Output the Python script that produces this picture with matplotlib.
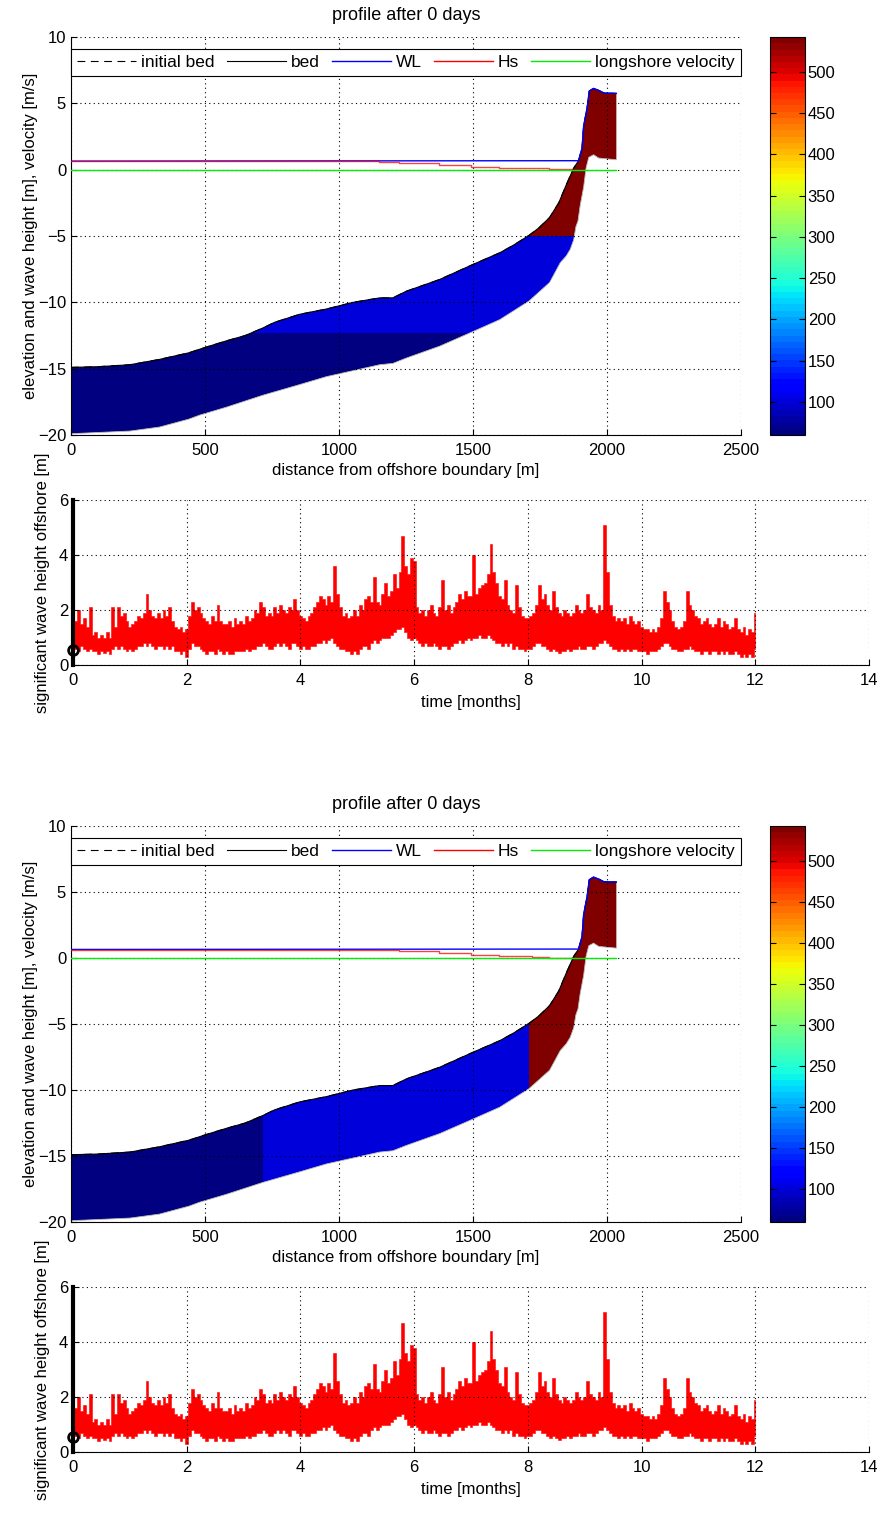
import numpy as np
import matplotlib
matplotlib.use('Agg')
import matplotlib.pyplot as plt
from matplotlib.patches import Polygon
from matplotlib.colors import Normalize
from matplotlib.cm import ScalarMappable

plt.rcParams['font.family'] = ['Liberation Sans', 'DejaVu Sans']
plt.rcParams['font.size'] = 12

# --- cross-shore profile ---
bed_x = [0, 100, 220, 330, 440, 500, 580, 650, 716, 760, 853, 953, 1052, 1152, 1201,
         1251, 1330, 1376, 1500, 1600, 1650, 1709, 1745, 1786, 1820, 1851, 1876, 1894,
         1907, 1913, 1926, 1934, 1950, 1969, 1988, 2035]
bed_z = [-14.9, -14.85, -14.7, -14.3, -13.8, -13.4, -12.9, -12.5, -11.93, -11.5, -10.9,
         -10.5, -10.0, -9.66, -9.66, -9.16, -8.6, -8.27, -7.14, -6.26, -5.7, -4.95, -4.4,
         -3.6, -2.5, -1.0, 0.13, 0.68, 1.63, 3.3, 4.67, 5.93, 6.13, 5.98, 5.78, 5.75]

# lower boundary of the sediment layers
base_x = [0, 220, 330, 440, 480, 580, 716, 853, 953, 1152, 1201, 1251, 1376, 1500, 1600,
          1709, 1786, 1826, 1848, 1863, 1876, 1884, 1892, 1900, 1913, 1922, 1932, 1950,
          1969, 2035]
base_z = [-19.9, -19.7, -19.4, -18.8, -18.5, -17.9, -17.0, -16.2, -15.6, -14.7, -14.6,
          -14.2, -13.3, -12.2, -11.3, -9.9, -8.5, -7.0, -6.5, -6.0, -5.27, -4.3, -3.85,
          -2.7, -1.3, 0.13, 0.93, 1.13, 0.88, 0.75]

wl_x = [0, 1894, 1907, 1913, 1926, 1934, 1950, 1969, 1988, 2035]
wl_z = [0.65, 0.68, 1.63, 3.3, 4.67, 5.93, 6.13, 5.98, 5.78, 5.75]

hs_x = [0, 1150, 1225, 1373, 1491, 1597, 1721, 1783, 1870]
hs_z = [0.62, 0.6, 0.53, 0.35, 0.22, 0.15, 0.1, 0.03, 0.03]

vel_x = [0, 2035]
vel_z = [0, 0]

# grain size per layer and layer interfaces
d50 = [62, 98, 542]
interface_z = [-12.3, -5.0]    # first snapshot: layers split by elevation
interface_x = [716, 1709]      # second snapshot: layers split by distance
d50_ticks = [100, 150, 200, 250, 300, 350, 400, 450, 500]

# --- offshore significant wave height: min / max in each 0.05 month bin ---
hs_min = [
    0.55, 0.6, 0.5, 0.7, 0.6, 0.5, 0.6, 0.5, 0.5, 0.4, 0.5, 0.45, 0.5, 0.4, 0.6, 0.7, 0.6, 0.7, 0.6, 0.5,
    0.6, 0.5, 0.6, 0.7, 0.7, 0.8, 0.7, 0.8, 0.7, 0.6, 0.7, 0.7, 0.6, 0.7, 0.6, 0.7, 0.5, 0.5, 0.4, 0.5,
    0.3, 0.6, 0.8, 0.7, 0.7, 0.6, 0.5, 0.4, 0.5, 0.5, 0.4, 0.6, 0.5, 0.4, 0.5, 0.4, 0.4, 0.5, 0.5, 0.5,
    0.5, 0.6, 0.5, 0.6, 0.6, 0.7, 0.7, 0.8, 0.7, 0.6, 0.6, 0.7, 0.8, 0.7, 0.8, 0.7, 0.6, 0.8, 0.8, 0.7,
    0.6, 0.7, 0.6, 0.6, 0.7, 0.7, 0.8, 0.8, 0.9, 0.8, 0.9, 1.0, 0.8, 0.7, 0.6, 0.6, 0.5, 0.5, 0.4, 0.5,
    0.4, 0.6, 0.7, 0.7, 0.6, 0.8, 0.9, 0.8, 0.9, 1.0, 1.0, 1.0, 1.1, 1.2, 1.3, 1.3, 1.4, 1.2, 1.0, 0.9,
    1.0, 0.9, 0.8, 0.7, 0.8, 0.7, 0.7, 0.8, 0.7, 0.6, 0.7, 0.7, 0.6, 0.7, 0.8, 0.8, 0.9, 0.8, 0.9, 1.0,
    0.9, 1.0, 1.0, 1.1, 1.0, 1.0, 1.1, 1.0, 0.9, 0.8, 0.8, 0.7, 0.8, 0.7, 0.8, 0.6, 0.7, 0.6, 0.6, 0.5,
    0.6, 0.6, 0.7, 0.8, 0.8, 0.7, 0.7, 0.6, 0.5, 0.6, 0.5, 0.45, 0.5, 0.5, 0.6, 0.5, 0.6, 0.6, 0.7, 0.6,
    0.6, 0.7, 0.7, 0.6, 0.7, 0.8, 0.8, 0.9, 0.8, 0.7, 0.6, 0.6, 0.5, 0.6, 0.5, 0.6, 0.5, 0.6, 0.6, 0.5,
    0.5, 0.5, 0.4, 0.5, 0.5, 0.5, 0.6, 0.7, 0.8, 0.8, 0.7, 0.6, 0.6, 0.5, 0.5, 0.6, 0.6, 0.7, 0.6, 0.5,
    0.5, 0.4, 0.5, 0.5, 0.4, 0.5, 0.5, 0.4, 0.5, 0.4, 0.5, 0.4, 0.4, 0.5, 0.4, 0.3, 0.4, 0.3, 0.4, 0.3,
    0.6]
hs_max = [
    1.2, 1.6, 2.0, 1.5, 1.7, 1.4, 2.1, 1.1, 1.2, 1.0, 1.1, 1.0, 1.2, 1.0, 2.1, 1.4, 2.1, 1.8, 1.9, 1.6,
    1.4, 1.5, 1.6, 1.8, 1.7, 1.9, 2.6, 2.0, 1.8, 1.7, 1.9, 1.7, 2.0, 1.8, 2.1, 1.6, 1.4, 1.3, 1.4, 1.2,
    1.3, 1.8, 2.3, 2.0, 2.1, 1.9, 1.7, 1.6, 1.5, 1.8, 1.6, 2.2, 1.6, 1.5, 1.5, 1.6, 1.4, 1.7, 1.5, 1.6,
    1.5, 1.8, 1.6, 1.7, 2.0, 1.9, 2.3, 2.1, 1.8, 1.9, 1.8, 2.1, 1.9, 2.2, 2.0, 1.9, 2.1, 2.0, 2.4, 2.0,
    1.8, 1.7, 1.6, 1.8, 1.9, 2.1, 2.3, 2.5, 2.4, 2.2, 2.5, 2.3, 3.6, 2.6, 2.1, 1.8, 1.9, 1.7, 1.8, 2.0,
    1.8, 2.2, 2.0, 2.4, 2.5, 2.3, 3.2, 2.3, 2.2, 2.6, 3.0, 2.5, 2.7, 3.3, 2.8, 3.4, 4.7, 3.6, 3.3, 3.9,
    3.8, 2.1, 1.9, 2.0, 1.8, 2.0, 2.2, 1.9, 1.8, 2.1, 3.1, 2.0, 2.2, 1.9, 2.1, 2.3, 2.6, 2.4, 2.7, 2.5,
    2.5, 4.0, 2.6, 2.8, 2.9, 3.0, 3.3, 4.4, 3.4, 3.0, 2.5, 2.4, 3.1, 2.2, 2.0, 1.9, 2.9, 2.1, 1.8, 1.7,
    1.7, 1.8, 1.9, 2.2, 2.9, 2.4, 2.6, 2.2, 2.0, 2.7, 2.1, 1.9, 1.8, 2.0, 1.9, 1.8, 1.9, 2.2, 2.0, 1.9,
    2.0, 2.6, 2.1, 2.0, 1.9, 2.2, 2.0, 5.1, 3.4, 2.2, 1.8, 1.6, 1.7, 1.6, 1.7, 1.5, 1.8, 1.6, 1.5, 1.6,
    1.4, 1.3, 1.3, 1.2, 1.3, 1.2, 1.4, 1.7, 2.7, 2.3, 2.0, 1.6, 1.4, 1.3, 1.4, 1.6, 2.7, 2.2, 2.0, 1.8,
    1.7, 1.5, 1.6, 1.7, 1.5, 1.4, 1.5, 1.7, 1.4, 1.6, 1.5, 1.3, 1.4, 1.7, 1.3, 1.2, 1.4, 1.1, 1.3, 1.2,
    1.9]
months = np.linspace(0, 12, len(hs_max))
current_hs = 0.55

cmap = plt.get_cmap('jet', 64)
norm = Normalize(vmin=60, vmax=542)

DOT = (0, (1, 3))


def style_axes(ax):
    ax.spines['top'].set_visible(False)
    ax.spines['right'].set_visible(False)
    ax.grid(True, linestyle=DOT, color='k', linewidth=0.8)
    ax.set_axisbelow(False)
    ax.tick_params(direction='in', length=4, top=False, right=False, labelsize=12)
    ax.tick_params(axis='x', pad=6)


def draw_profile(fig, rect, crect, split):
    ax = fig.add_axes(rect)
    poly_x = bed_x + base_x[::-1]
    poly_z = bed_z + base_z[::-1]
    poly = Polygon(np.column_stack([poly_x, poly_z]), closed=True,
                   facecolor='none', edgecolor='none')
    ax.add_patch(poly)
    if split == 'z':
        edges = [-30] + interface_z + [20]
        for lo, hi, d in zip(edges[:-1], edges[1:], d50):
            p = ax.axhspan(lo, hi, color=cmap(norm(d)), lw=0, zorder=1)
            p.set_clip_path(poly)
    else:
        edges = [-100] + interface_x + [2600]
        for lo, hi, d in zip(edges[:-1], edges[1:], d50):
            p = ax.axvspan(lo, hi, color=cmap(norm(d)), lw=0, zorder=1)
            p.set_clip_path(poly)
    ax.plot(base_x, base_z, color='#bbbbbb', lw=0.6, zorder=2)

    h0, = ax.plot(bed_x, bed_z, 'k', lw=0.8, dashes=(7, 5), label='initial bed', zorder=2)
    h1, = ax.plot(bed_x, bed_z, 'k-', lw=0.8, label='bed', zorder=2)
    h2, = ax.plot(wl_x, wl_z, color='b', lw=1, label='WL', zorder=3)
    h3, = ax.plot(hs_x, hs_z, color='r', lw=1, alpha=0.75, drawstyle='steps-post',
                  label='Hs', zorder=3)
    h4, = ax.plot(vel_x, vel_z, color='#00ee00', lw=1, label='longshore velocity', zorder=3)

    ax.set_xlim(0, 2500)
    ax.set_ylim(-20, 10)
    ax.set_xticks([0, 500, 1000, 1500, 2000, 2500])
    ax.set_yticks([-20, -15, -10, -5, 0, 5, 10])
    style_axes(ax)
    ax.set_title('profile after 0 days', fontsize=13, pad=12)
    ax.set_xlabel('distance from offshore boundary [m]', fontsize=12, labelpad=3)
    ax.set_ylabel('elevation and wave height [m], velocity [m/s]', fontsize=12, labelpad=0)

    leg = ax.legend(handles=[h0, h1, h2, h3, h4], ncol=5, loc='lower left',
                    bbox_to_anchor=(0, 0.902, 1, 0.078), mode='expand',
                    fancybox=False, framealpha=1, edgecolor='k', fontsize=12.5,
                    handlelength=3.4, handletextpad=0.3, columnspacing=0.4,
                    borderpad=0.35, borderaxespad=0)
    leg.get_frame().set_linewidth(0.8)
    for lh in leg.get_lines():
        lh.set_alpha(1)

    cax = fig.add_axes(crect)
    cb = fig.colorbar(ScalarMappable(norm=norm, cmap=cmap), cax=cax)
    cb.set_ticks(d50_ticks)
    cb.outline.set_linewidth(0.8)
    cax.tick_params(direction='in', length=4, left=True, right=True, labelsize=12, pad=2)
    return ax


def draw_hs(fig, rect):
    ax = fig.add_axes(rect)
    ax.fill_between(months, hs_min, hs_max, step='mid', color='r', lw=0.4)
    ax.plot([0, 0], [0, 6], color='k', lw=3, clip_on=False, zorder=4)
    ax.plot([0], [current_hs], 'o', mfc='none', mec='k', mew=2, ms=7, clip_on=False, zorder=5)
    ax.set_xlim(0, 14)
    ax.set_ylim(0, 6)
    ax.set_xticks(range(0, 15, 2))
    ax.set_yticks([0, 2, 4, 6])
    style_axes(ax)
    ax.set_xlabel('time [months]', fontsize=12, labelpad=5)
    ax.set_ylabel('significant wave height offshore [m]', fontsize=12, labelpad=6)
    return ax


fig = plt.figure(figsize=(8.82, 15.19), dpi=100)

draw_profile(fig, [0.0805, 0.7136, 0.7596, 0.2620], [0.873, 0.7136, 0.0397, 0.2620], 'z')
draw_hs(fig, [0.0828, 0.5622, 0.9025, 0.1086])
draw_profile(fig, [0.0805, 0.1955, 0.7596, 0.2607], [0.873, 0.1955, 0.0397, 0.2607], 'x')
draw_hs(fig, [0.0828, 0.0441, 0.9025, 0.1086])

fig.savefig('out.png', dpi=100)
